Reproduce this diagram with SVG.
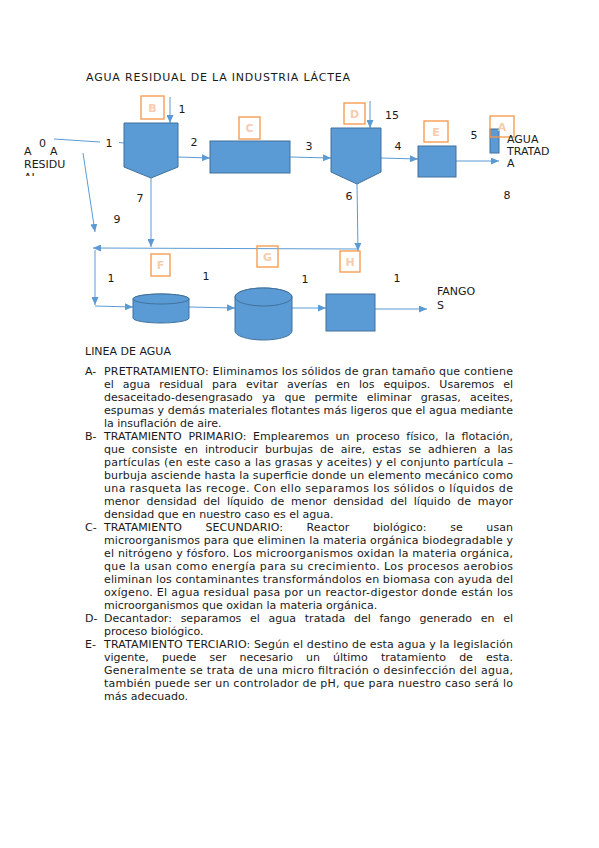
<svg xmlns="http://www.w3.org/2000/svg" width="599" height="848" viewBox="0 0 599 848">
<style>
.t{font-family:"DejaVu Sans","Liberation Sans",sans-serif;font-size:11px;fill:#1a1a1a}
.m{text-anchor:middle}
.ob{fill:none;stroke:#f79646;stroke-width:1.3}
.ol{font-family:"DejaVu Sans","Liberation Sans",sans-serif;font-size:11px;fill:#f8cbad;text-anchor:middle;font-weight:bold}
.eq{fill:#5b9bd5;stroke:#41719c;stroke-width:1}
.cn{stroke:#5b9bd5;stroke-width:1;fill:none}
.ar{marker-end:url(#ah)}
</style>
<defs>
<marker id="ah" markerUnits="userSpaceOnUse" markerWidth="8" markerHeight="7" refX="8" refY="3.5" orient="auto">
<path d="M0,0 L8,3.5 L0,7 z" fill="#5b9bd5"/>
</marker>
<clipPath id="clipAL"><rect x="0" y="160" width="80" height="16"/></clipPath>
</defs>
<rect width="599" height="848" fill="#ffffff"/>

<text class="t" x="86" y="81" textLength="264" lengthAdjust="spacing">AGUA RESIDUAL DE LA INDUSTRIA LÁCTEA</text>

<g id="connectors">
<path class="cn" d="M54,139 L100,142"/>
<path class="cn" d="M119,142.5 L124,143"/>
<path class="cn ar" d="M170,97 L170,123"/>
<path class="cn ar" d="M178,157 L210,158"/>
<path class="cn ar" d="M290,157 L331,158"/>
<path class="cn ar" d="M370,101 L370,128"/>
<path class="cn ar" d="M381,158 L418,159"/>
<path class="cn ar" d="M456,161 L499,161"/>
<path class="cn ar" d="M83,153 L95,232"/>
<path class="cn ar" d="M151,178 L151,247"/>
<path class="cn ar" d="M357,184 L358,251"/>
<path class="cn ar" d="M358,249 L93,248"/>
<path class="cn ar" d="M95,250 L95,305"/>
<path class="cn ar" d="M95,306 L133,307"/>
<path class="cn ar" d="M189,307 L235,308"/>
<path class="cn ar" d="M292,308 L326,308"/>
<path class="cn ar" d="M375,309 L427,309"/>
</g>

<g id="input">
<text class="t" x="24" y="155">A</text>
<text class="t" x="39" y="147">0</text>
<text class="t" x="50" y="155">A</text>
<text class="t" x="24" y="168">RESIDU</text>
<text class="t" x="24" y="181" clip-path="url(#clipAL)">AL</text>
</g>

<g id="nodeB">
<polygon class="eq" points="124,123 178,123 178,167 151,178 124,167"/>
<rect class="ob" x="141" y="96" width="23" height="23"/>
<text class="ol" x="152.5" y="111.5">B</text>
</g>
<g id="nodeC">
<rect class="eq" x="210" y="141" width="80" height="32"/>
<rect class="ob" x="239" y="117" width="21" height="22"/>
<text class="ol" x="249.5" y="132">C</text>
</g>
<g id="nodeD">
<polygon class="eq" points="331,128 381,128 381,172 357,184 331,172"/>
<rect class="ob" x="344" y="103" width="21" height="21"/>
<text class="ol" x="354.5" y="117.5">D</text>
</g>
<g id="nodeE">
<rect class="eq" x="418" y="146" width="38" height="31"/>
<rect class="ob" x="424" y="121" width="24" height="21"/>
<text class="ol" x="436" y="135.5">E</text>
</g>
<g id="nodeA">
<rect class="eq" x="490" y="129" width="9" height="24"/>
<rect class="ob" x="490" y="116" width="24" height="21"/>
<text class="ol" x="502" y="130.5">A</text>
<text class="t" x="507" y="143">AGUA</text>
<text class="t" x="507" y="155">TRATAD</text>
<text class="t" x="507" y="167">A</text>
</g>
<g id="nodeF">
<path class="eq" d="M133,299 L133,318 A28,5 0 0 0 189,318 L189,299 A28,5 0 0 0 133,299 Z"/>
<ellipse class="eq" cx="161" cy="299" rx="28" ry="5"/>
<rect class="ob" x="151" y="254" width="19" height="22"/>
<text class="ol" x="160.5" y="269">F</text>
</g>
<g id="nodeG">
<path class="eq" d="M235,297 L235,331 A28.5,9 0 0 0 292,331 L292,297 A28.5,9 0 0 0 235,297 Z"/>
<ellipse class="eq" cx="263.5" cy="297" rx="28.5" ry="9"/>
<rect class="ob" x="257" y="246" width="21" height="21"/>
<text class="ol" x="267.5" y="260.5">G</text>
</g>
<g id="nodeH">
<rect class="eq" x="326" y="294" width="49" height="37"/>
<rect class="ob" x="340" y="251" width="20" height="21"/>
<text class="ol" x="350" y="265.5">H</text>
<text class="t" x="437" y="295">FANGO</text>
<text class="t" x="437" y="309">S</text>
</g>

<g id="labels">
<text class="t m" x="182" y="113">1</text>
<text class="t m" x="109" y="147">1</text>
<text class="t m" x="194" y="146">2</text>
<text class="t m" x="309" y="150">3</text>
<text class="t m" x="392" y="119">15</text>
<text class="t m" x="398" y="150">4</text>
<text class="t m" x="474" y="139">5</text>
<text class="t m" x="140" y="202">7</text>
<text class="t m" x="349" y="200">6</text>
<text class="t m" x="507" y="199">8</text>
<text class="t m" x="117" y="223">9</text>
<text class="t m" x="111" y="282">1</text>
<text class="t m" x="206" y="280">1</text>
<text class="t m" x="305" y="283">1</text>
<text class="t m" x="397" y="282">1</text>
</g>

<g id="body">
<text class="t" x="85" y="355">LINEA DE AGUA</text>
<text class="t" x="85" y="375">A-</text>
<text class="t" x="104" y="375" textLength="409" lengthAdjust="spacing">PRETRATAMIENTO: Eliminamos los sólidos de gran tamaño que contiene</text>
<text class="t" x="104" y="388" textLength="409" lengthAdjust="spacing" style="word-spacing:5.5px">el agua residual para evitar averías en los equipos. Usaremos el</text>
<text class="t" x="104" y="401" textLength="409" lengthAdjust="spacing" style="word-spacing:5.8px">desaceitado-desengrasado ya que permite eliminar grasas, aceites,</text>
<text class="t" x="104" y="414" textLength="409" lengthAdjust="spacing">espumas y demás materiales flotantes más ligeros que el agua mediante</text>
<text class="t" x="104" y="427">la insuflación de aire.</text>

<text class="t" x="85" y="440">B-</text>
<text class="t" x="104" y="440" textLength="409" lengthAdjust="spacing" style="word-spacing:3px">TRATAMIENTO PRIMARIO: Emplearemos un proceso físico, la flotación,</text>
<text class="t" x="104" y="453" textLength="409" lengthAdjust="spacing" style="word-spacing:3.5px">que consiste en introducir burbujas de aire, estas se adhieren a las</text>
<text class="t" x="104" y="466" textLength="409" lengthAdjust="spacing">partículas (en este caso a las grasas y aceites) y el conjunto partícula –</text>
<text class="t" x="104" y="479" textLength="409" lengthAdjust="spacing">burbuja asciende hasta la superficie donde un elemento mecánico como</text>
<text class="t" x="104" y="492" textLength="409" lengthAdjust="spacing">una rasqueta las recoge. Con ello separamos los sólidos o líquidos de</text>
<text class="t" x="104" y="505" textLength="409" lengthAdjust="spacing" style="word-spacing:3.2px">menor densidad del líquido de menor densidad del líquido de mayor</text>
<text class="t" x="104" y="518">densidad que en nuestro caso es el agua.</text>

<text class="t" x="85" y="531">C-</text>
<text class="t" x="104" y="531" textLength="409" lengthAdjust="spacing" style="word-spacing:20px">TRATAMIENTO SECUNDARIO: Reactor biológico: se usan</text>
<text class="t" x="104" y="544" textLength="409" lengthAdjust="spacing">microorganismos para que eliminen la materia orgánica biodegradable y</text>
<text class="t" x="104" y="557" textLength="409" lengthAdjust="spacing">el nitrógeno y fósforo. Los microorganismos oxidan la materia orgánica,</text>
<text class="t" x="104" y="570" textLength="409" lengthAdjust="spacing">que la usan como energía para su crecimiento. Los procesos aerobios</text>
<text class="t" x="104" y="583" textLength="409" lengthAdjust="spacing">eliminan los contaminantes transformándolos en biomasa con ayuda del</text>
<text class="t" x="104" y="596" textLength="409" lengthAdjust="spacing">oxígeno. El agua residual pasa por un reactor-digestor donde están los</text>
<text class="t" x="104" y="609">microorganismos que oxidan la materia orgánica.</text>

<text class="t" x="85" y="622">D-</text>
<text class="t" x="104" y="622" textLength="409" lengthAdjust="spacing" style="word-spacing:5.2px">Decantador: separamos el agua tratada del fango generado en el</text>
<text class="t" x="104" y="635">proceso biológico.</text>

<text class="t" x="85" y="648">E-</text>
<text class="t" x="104" y="648" textLength="409" lengthAdjust="spacing">TRATAMIENTO TERCIARIO: Según el destino de esta agua y la legislación</text>
<text class="t" x="104" y="661" textLength="409" lengthAdjust="spacing" style="word-spacing:9.6px">vigente, puede ser necesario un último tratamiento de esta.</text>
<text class="t" x="104" y="674" textLength="409" lengthAdjust="spacing">Generalmente se trata de una micro filtración o desinfección del agua,</text>
<text class="t" x="104" y="687" textLength="409" lengthAdjust="spacing">también puede ser un controlador de pH, que para nuestro caso será lo</text>
<text class="t" x="104" y="700">más adecuado.</text>
</g>
</svg>
